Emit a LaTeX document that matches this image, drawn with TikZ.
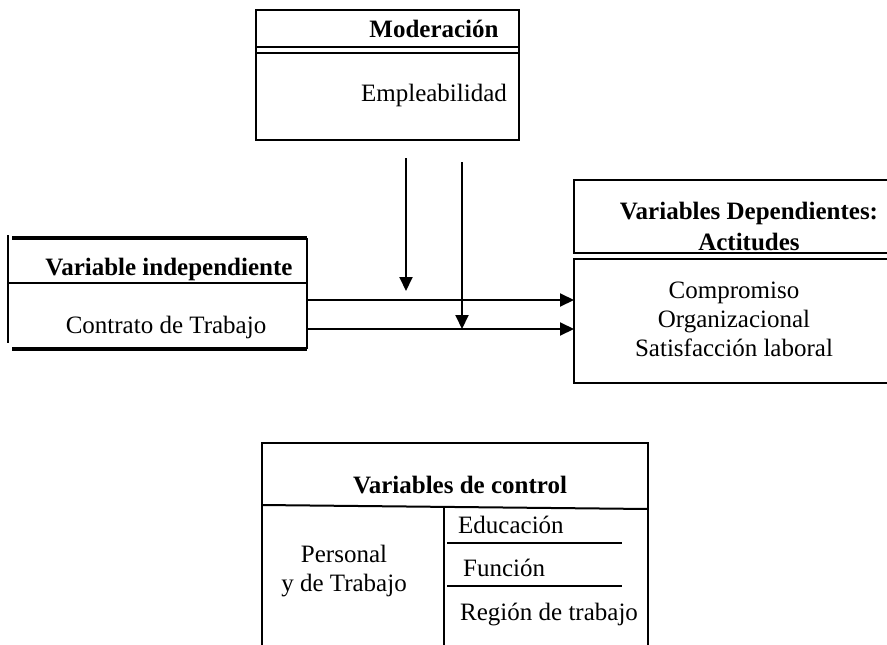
\documentclass[tikz,border=0pt]{standalone}
\usepackage{fontspec}
\setmainfont{Liberation Serif}
\usetikzlibrary{arrows.meta}
\begin{document}
\begin{tikzpicture}[x=1pt,y=-1pt,
  txt/.style={inner sep=0pt,font=\fontsize{25}{29}\selectfont,align=center},
  btxt/.style={txt,font=\fontsize{25}{31}\selectfont\bfseries},
  ln/.style={line width=2pt},
  thick line/.style={line width=4pt},
  arr/.style={line width=2pt,-{Triangle[length=14pt,width=13pt]}}]
\useasboundingbox (0,0) rectangle (887,645);
% --- Moderacion box
\node[draw,ln,minimum width=263pt,minimum height=130pt,inner sep=0pt] (mod) at (387.5,75) {};
\draw[ln] (256,47) -- (519,47);
\draw[ln] (256,53) -- (519,53);
\node[btxt] (modt) at (434,29) {Moderación};
\node[txt] (emp) at (434,95) {Empleabilidad};
% --- Independent variable box
\draw[ln] (8,235) -- (8,343);
\draw[thick line] (12,238) -- (307,238);
\draw[thick line] (12,349) -- (307,349);
\draw[ln] (8,283) -- (307,283);
\draw[ln] (307,238) -- (307,349);
\node[btxt] (vi) at (169,269) {Variable independiente};
\node[txt] (ct) at (166,327) {Contrato de Trabajo};
\coordinate (vi1) at (307,300);
\coordinate (vi2) at (307,329);
% --- Dependent variables
\draw[ln] (889,180) -- (574,180) -- (574,253) -- (889,253);
\draw[ln] (889,259) -- (574,259) -- (574,383) -- (889,383);
\node[btxt] (vd) at (749,226) {Variables Dependientes:\\Actitudes};
\node[txt] (act) at (734,319) {Compromiso\\Organizacional\\Satisfacción laboral};
\coordinate (vd1) at (574,300);
\coordinate (vd2) at (574,329);
% --- arrows
\draw[arr] (vi1) -- (vd1);
\draw[arr] (vi2) -- (vd2);
\coordinate (m1) at (406,158);
\coordinate (m1e) at (406,291);
\coordinate (m2) at (462,162);
\coordinate (m2e) at (462,329);
\draw[arr] (m1) -- (m1e);
\draw[arr] (m2) -- (m2e);
% --- control variables
\draw[ln] (262,647) -- (262,443) -- (648,443) -- (648,647);
\draw[ln] (262,505) -- (648,509);
\draw[line width=1.5pt] (444,508) -- (444,647);
\draw[line width=2.5pt] (447,543) -- (622,543);
\draw[line width=2.5pt] (447,586) -- (622,586);
\node[btxt] (vc) at (460,485) {Variables de control};
\node[txt,align=center] (pt) at (344,571) {Personal\\y de Trabajo};
\node[txt,anchor=west] (edu) at (458,525) {Educación};
\node[txt,anchor=west] (fun) at (463,568) {Función};
\node[txt,anchor=west] (reg) at (460,615) {Región de trabajo};
\end{tikzpicture}
\end{document}
